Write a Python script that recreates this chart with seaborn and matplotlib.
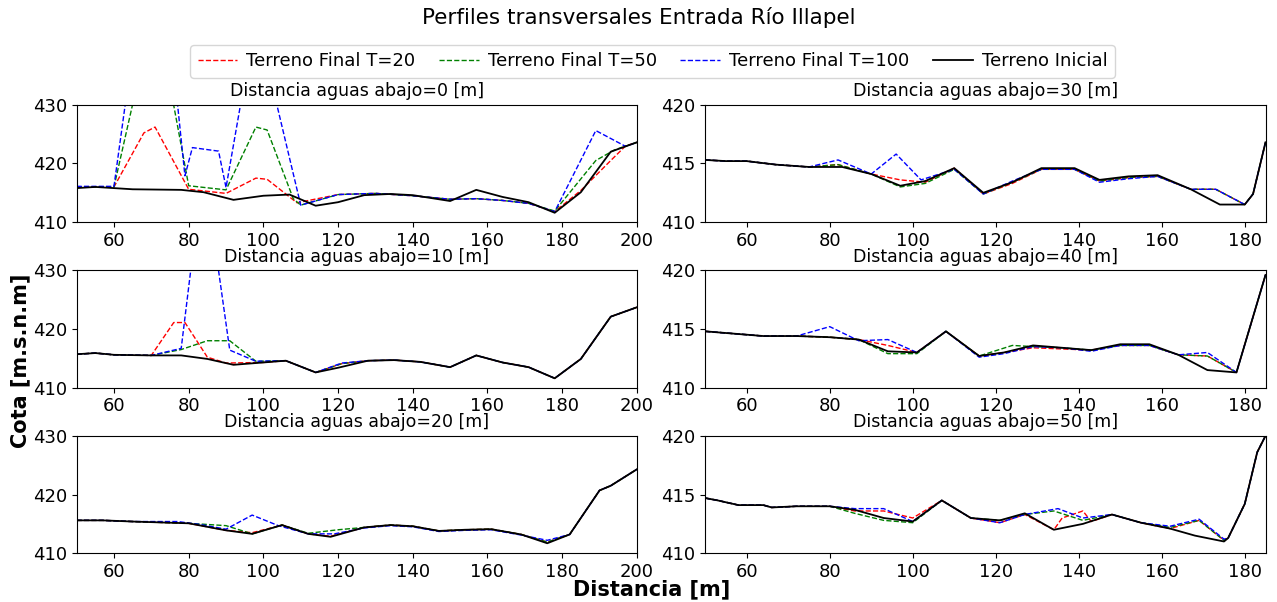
import matplotlib
matplotlib.use('Agg')
import matplotlib.pyplot as plt
import seaborn as sns

# Perfiles transversales: distancia [m] vs cota [m.s.n.m]
dists = [0, 10, 20, 30, 40, 50]
labels = ['Terreno Final T=20', 'Terreno Final T=50', 'Terreno Final T=100', 'Terreno Inicial']

# --- Distancia aguas abajo = 0 m
x_ini_0 = [50, 55, 60, 65, 78, 84, 92, 100, 107, 114, 120, 127, 134, 140, 150, 157, 164, 171, 178, 185, 193, 200]
y_ini_0 = [415.8, 416.0, 415.8, 415.6, 415.5, 415.1, 413.8, 414.5, 414.7, 412.8, 413.4, 414.6, 414.8, 414.6, 413.6,
           415.5, 414.3, 413.4, 411.6, 415.1, 422.0, 423.6]
x_t20_0 = [50, 60, 68, 71, 80, 90, 98, 101, 109, 120, 130, 140, 150, 157, 164, 171, 178, 185, 193, 197, 200]
y_t20_0 = [416.0, 416.0, 425.2, 426.2, 415.6, 414.9, 417.5, 417.3, 413.3, 414.7, 414.9, 414.5, 413.9, 414.0, 413.7,
           413.2, 411.8, 415.4, 420.5, 423.0, 423.6]
x_t50_0 = [50, 60, 71, 80, 90, 98, 101, 108, 110, 120, 130, 140, 150, 157, 164, 171, 178, 189, 194, 200]
y_t50_0 = [416.0, 416.0, 447.0, 416.2, 415.5, 426.2, 425.7, 414.0, 412.9, 414.7, 414.9, 414.5, 413.9, 414.0, 413.7,
           413.2, 411.9, 420.5, 422.3, 423.6]
x_t100_0 = [50, 60, 71, 79, 81, 88, 90, 98, 110, 120, 130, 140, 150, 157, 164, 171, 178, 189, 197, 200]
y_t100_0 = [416.1, 416.1, 467.0, 417.9, 422.7, 422.1, 415.9, 445.0, 412.9, 414.7, 414.9, 414.5, 413.9, 414.0, 413.7,
            413.2, 411.8, 425.6, 422.9, 423.6]

# --- Distancia aguas abajo = 10 m
x_ini_1 = [50, 55, 60, 70, 78, 85, 92, 100, 106, 114, 120, 128, 135, 142, 150, 157, 164, 171, 178, 185, 193, 200]
y_ini_1 = [415.7, 415.9, 415.6, 415.5, 415.5, 414.9, 413.9, 414.3, 414.6, 412.6, 413.4, 414.6, 414.7, 414.4, 413.5,
           415.5, 414.3, 413.5, 411.6, 414.9, 422.1, 423.7]
x_t20_1 = [50, 55, 60, 70, 76, 79, 85, 90, 100, 106, 114, 121, 128, 135, 142, 150, 157, 164, 171, 178, 185, 193, 200]
y_t20_1 = [415.7, 415.9, 415.6, 415.5, 421.1, 421.1, 415.2, 414.2, 414.3, 414.6, 412.6, 414.1, 414.6, 414.7, 414.4,
           413.5, 415.5, 414.3, 413.5, 411.6, 414.9, 422.1, 423.7]
x_t50_1 = [50, 55, 60, 70, 78, 85, 91, 98, 106, 114, 121, 128, 135, 142, 150, 157, 164, 171, 178, 185, 193, 200]
y_t50_1 = [415.7, 415.9, 415.6, 415.5, 416.5, 418.0, 418.0, 414.5, 414.6, 412.6, 414.1, 414.6, 414.7, 414.4, 413.5,
           415.5, 414.3, 413.5, 411.6, 414.9, 422.1, 423.7]
x_t100_1 = [50, 55, 60, 70, 78, 84, 91, 98, 106, 114, 121, 128, 135, 142, 150, 157, 164, 171, 178, 185, 193, 200]
y_t100_1 = [415.7, 415.9, 415.6, 415.5, 416.7, 448.0, 416.4, 414.5, 414.6, 412.6, 414.2, 414.6, 414.7, 414.4, 413.5,
            415.5, 414.3, 413.5, 411.6, 414.9, 422.1, 423.7]

# --- Distancia aguas abajo = 20 m
x_ini_2 = [50, 57, 65, 80, 90, 97, 105, 112, 118, 127, 134, 140, 147, 154, 161, 169, 176, 182, 190, 193, 200]
y_ini_2 = [415.6, 415.6, 415.4, 415.1, 413.9, 413.3, 414.8, 413.3, 412.8, 414.4, 414.8, 414.6, 413.8, 414.0, 414.1,
           413.2, 411.7, 413.2, 420.7, 421.5, 424.3]
x_t20_2 = [50, 57, 65, 80, 90, 97, 105, 112, 118, 127, 134, 140, 147, 154, 161, 169, 176, 182, 190, 193, 200]
y_t20_2 = [415.6, 415.6, 415.4, 415.1, 413.9, 413.5, 414.8, 413.3, 412.9, 414.4, 414.8, 414.6, 413.8, 414.0, 414.1,
           413.2, 411.9, 413.2, 420.7, 421.5, 424.3]
x_t50_2 = [50, 57, 65, 80, 90, 97, 105, 112, 120, 127, 134, 140, 147, 154, 161, 169, 176, 182, 190, 193, 200]
y_t50_2 = [415.6, 415.6, 415.4, 415.1, 414.7, 413.3, 414.8, 413.4, 414.0, 414.4, 414.8, 414.6, 413.8, 414.0, 414.1,
           413.2, 411.9, 413.2, 420.7, 421.5, 424.3]
x_t100_2 = [50, 57, 65, 77, 83, 90, 97, 104, 112, 119, 127, 134, 140, 147, 154, 161, 169, 176, 182, 190, 193, 200]
y_t100_2 = [415.6, 415.6, 415.4, 415.4, 414.9, 414.1, 416.5, 414.7, 413.3, 413.3, 414.3, 414.7, 414.5, 413.7, 413.9,
            414.0, 413.1, 412.2, 413.2, 420.7, 421.5, 424.3]

# --- Distancia aguas abajo = 30 m
x_ini_3 = [50, 55, 60, 67, 75, 83, 90, 97, 103, 110, 117, 124, 131, 139, 145, 152, 159, 167, 174, 180, 182, 185]
y_ini_3 = [415.3, 415.2, 415.2, 414.9, 414.7, 414.7, 414.1, 413.1, 413.5, 414.6, 412.5, 413.4, 414.6, 414.6, 413.6,
           413.9, 414.0, 412.8, 411.5, 411.5, 412.4, 416.8]
x_t20_3 = [50, 55, 60, 67, 75, 82, 90, 97, 103, 110, 117, 124, 131, 139, 145, 152, 159, 167, 173, 180, 182, 185]
y_t20_3 = [415.3, 415.2, 415.2, 414.9, 414.7, 414.9, 414.1, 413.6, 413.4, 414.6, 412.4, 413.3, 414.5, 414.5, 413.5,
           413.8, 413.9, 412.8, 412.8, 411.5, 412.4, 416.8]
x_t50_3 = [50, 55, 60, 67, 75, 82, 90, 97, 103, 110, 117, 124, 131, 139, 145, 152, 159, 167, 173, 180, 182, 185]
y_t50_3 = [415.3, 415.2, 415.2, 414.9, 414.7, 414.9, 414.1, 413.0, 413.3, 414.5, 412.4, 413.4, 414.5, 414.5, 413.5,
           413.8, 413.9, 412.8, 412.8, 411.5, 412.4, 416.8]
x_t100_3 = [50, 55, 60, 67, 75, 82, 90, 96, 102, 110, 117, 124, 131, 139, 145, 152, 159, 167, 173, 180, 182, 185]
y_t100_3 = [415.3, 415.2, 415.2, 414.9, 414.7, 415.3, 414.1, 415.8, 413.6, 414.5, 412.4, 413.5, 414.5, 414.5, 413.4,
            413.7, 413.9, 412.8, 412.8, 411.5, 412.4, 416.8]

# --- Distancia aguas abajo = 40 m
x_ini_4 = [50, 57, 64, 72, 80, 87, 94, 101, 108, 116, 122, 129, 136, 143, 150, 157, 164, 171, 178, 185]
y_ini_4 = [414.8, 414.6, 414.4, 414.4, 414.3, 414.1, 413.1, 413.0, 414.8, 412.7, 413.0, 413.6, 413.4, 413.2, 413.7,
           413.7, 412.8, 411.5, 411.3, 419.6]
x_t20_4 = [50, 57, 64, 72, 80, 87, 94, 101, 108, 116, 122, 129, 136, 143, 150, 157, 164, 171, 178, 185]
y_t20_4 = [414.8, 414.6, 414.4, 414.4, 414.3, 414.1, 413.6, 413.0, 414.8, 412.7, 413.0, 413.4, 413.3, 413.2, 413.6,
           413.6, 412.8, 412.7, 411.3, 419.6]
x_t50_4 = [50, 57, 64, 72, 80, 87, 94, 101, 108, 116, 124, 129, 136, 143, 150, 157, 164, 171, 178, 185]
y_t50_4 = [414.8, 414.6, 414.4, 414.4, 414.3, 414.1, 412.9, 412.9, 414.8, 412.7, 413.6, 413.5, 413.4, 413.2, 413.6,
           413.6, 412.8, 412.7, 411.3, 419.6]
x_t100_4 = [50, 57, 64, 72, 80, 87, 94, 101, 108, 116, 122, 129, 136, 143, 150, 157, 164, 171, 178, 185]
y_t100_4 = [414.8, 414.6, 414.4, 414.4, 415.2, 414.0, 414.1, 413.0, 414.8, 412.6, 412.9, 413.5, 413.4, 413.1, 413.6,
            413.6, 412.8, 413.0, 411.3, 419.6]

# --- Distancia aguas abajo = 50 m
x_ini_5 = [50, 53, 58, 64, 66, 72, 80, 86, 93, 100, 107, 114, 121, 127, 134, 141, 148, 155, 162, 168, 175, 176, 180,
           183, 185]
y_ini_5 = [414.7, 414.5, 414.1, 414.1, 413.9, 414.0, 414.0, 413.7, 413.0, 412.7, 414.5, 413.0, 412.8, 413.4, 412.0,
           412.5, 413.3, 412.6, 412.1, 411.5, 411.0, 411.3, 414.2, 418.6, 420.0]
x_t20_5 = [50, 53, 58, 64, 66, 72, 80, 86, 93, 100, 107, 114, 121, 127, 134, 136, 141, 143, 148, 155, 162, 169, 175,
           176, 180, 183, 185]
y_t20_5 = [414.7, 414.5, 414.1, 414.1, 413.9, 414.0, 414.0, 413.6, 413.6, 413.0, 414.5, 413.0, 412.6, 413.3, 412.0,
           413.0, 413.6, 412.7, 413.3, 412.6, 412.1, 412.8, 411.1, 411.3, 414.2, 418.6, 420.0]
x_t50_5 = [50, 53, 58, 64, 66, 72, 80, 86, 93, 100, 107, 114, 121, 127, 134, 141, 148, 155, 162, 169, 175, 176, 180,
           183, 185]
y_t50_5 = [414.7, 414.5, 414.1, 414.1, 413.9, 414.0, 414.0, 413.4, 412.8, 412.6, 414.5, 413.0, 412.8, 413.3, 413.6,
           412.8, 413.3, 412.6, 412.2, 412.8, 411.1, 411.3, 414.2, 418.6, 420.0]
x_t100_5 = [50, 53, 58, 64, 66, 72, 80, 86, 93, 100, 107, 114, 121, 127, 135, 141, 148, 155, 162, 169, 175, 176, 180,
            183, 185]
y_t100_5 = [414.7, 414.5, 414.1, 414.1, 413.9, 414.0, 414.0, 413.8, 413.8, 412.7, 414.5, 413.0, 412.6, 413.3, 413.8,
            413.0, 413.3, 412.6, 412.3, 412.9, 411.2, 411.3, 414.2, 418.6, 420.0]

panels = [
    [(x_t20_0, y_t20_0), (x_t50_0, y_t50_0), (x_t100_0, y_t100_0), (x_ini_0, y_ini_0)],
    [(x_t20_1, y_t20_1), (x_t50_1, y_t50_1), (x_t100_1, y_t100_1), (x_ini_1, y_ini_1)],
    [(x_t20_2, y_t20_2), (x_t50_2, y_t50_2), (x_t100_2, y_t100_2), (x_ini_2, y_ini_2)],
    [(x_t20_3, y_t20_3), (x_t50_3, y_t50_3), (x_t100_3, y_t100_3), (x_ini_3, y_ini_3)],
    [(x_t20_4, y_t20_4), (x_t50_4, y_t50_4), (x_t100_4, y_t100_4), (x_ini_4, y_ini_4)],
    [(x_t20_5, y_t20_5), (x_t50_5, y_t50_5), (x_t100_5, y_t100_5), (x_ini_5, y_ini_5)],
]
colors = ['red', 'green', 'blue', 'black']
styles = ['--', '--', '--', '-']

fig, axs = plt.subplots(3, 2, figsize=(12.77, 6.02), dpi=100)
plt.subplots_adjust(left=0.06, right=0.991, top=0.826, bottom=0.081, hspace=0.41, wspace=0.122)

for i, d in enumerate(dists):
    ax = axs[i % 3, i // 3]
    for (xs, ys), c, ls, lab in zip(panels[i], colors, styles, labels):
        sns.lineplot(x=xs, y=ys, ax=ax, color=c, linestyle=ls, linewidth=1.0 if ls == '--' else 1.3,
                     label=lab, legend=False, sort=False, estimator=None)
    ax.set_title(f'Distancia aguas abajo={d} [m]', fontsize=12.5)
    if i < 3:
        ax.set_xlim(50, 200)
        ax.set_ylim(410, 430)
        ax.set_xticks(range(60, 201, 20))
        ax.set_yticks([410, 420, 430])
    else:
        ax.set_xlim(50, 185)
        ax.set_ylim(410, 420)
        ax.set_xticks(range(60, 181, 20))
        ax.set_yticks([410, 415, 420])
    ax.tick_params(labelsize=13)
    ax.set_xlabel('')
    ax.set_ylabel('')

handles, labs = axs[0, 0].get_legend_handles_labels()
fig.legend(handles, labs, loc='upper center', bbox_to_anchor=(0.511, 0.94), ncol=4, fontsize=13,
           columnspacing=1.3, handletextpad=0.5, handlelength=2.2)
fig.suptitle('Perfiles transversales Entrada Río Illapel', fontsize=15.5, y=0.988)
fig.supxlabel('Distancia [m]', fontsize=15, fontweight='bold', x=0.51, y=0.005)
fig.text(0.016, 0.40, 'Cota [m.s.n.m]', fontsize=15, fontweight='bold', rotation=90, ha='center', va='center')

plt.savefig('out.png', dpi=100)
